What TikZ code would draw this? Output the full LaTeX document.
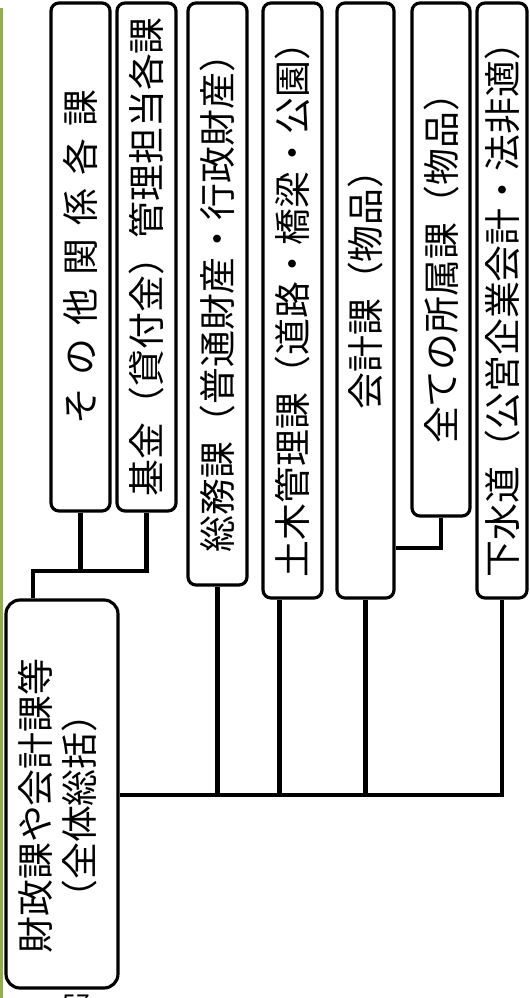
\documentclass[tikz,border=0pt]{standalone}
\usepackage{fontspec}
\usepackage{graphicx}
\setmainfont{Noto Sans CJK JP}
\definecolor{framegreen}{RGB}{146,175,80}
\tikzset{
  unitbox/.style={draw, line width=1.8pt, rounded corners=0.16cm, inner sep=0pt,
    font=\fontsize{21pt}{25pt}\selectfont},
  conn/.style={line width=2.3pt},
}
\newcommand\spread[1]{{\addfontfeature{LetterSpace=35}#1}}

\begin{document}
\begin{tikzpicture}[x=0.02cm,y=-0.02cm]
  \useasboundingbox (0,0) rectangle (529,998);
  % Frame edge
  \draw[framegreen, line width=1.7pt] (1.5,8) -- (1.5,998);
  % Department boxes
  \foreach \nm/\xa/\xb/\yb/\txt in {
      b1/51/110/511/\spread{その他関係各課},
      b2/117/176/511/基金（貸付金）管理担当各課,
      b3/188/247/585/総務課（普通財産・行政財産）,
      b4/263/322/598/土木管理課（道路・橋梁・公園）,
      b5/337/394/598/\hspace*{0.8cm}会計課（物品）,
      b6/412/470/516/全ての所属課（物品）,
      b7/477/527/598/下水道（公営企業会計・法非適）} {
    \node[unitbox, minimum width={(\xb-\xa)*0.02cm}, minimum height={(\yb-3)*0.02cm}]
      (\nm) at ({(\xa+\xb)/2},{(\yb+3)/2}) {\rotatebox{90}{\txt}};
  }
  % Head box
  \node[unitbox, rounded corners=0.28cm, minimum width=112*0.02cm, minimum height=388*0.02cm]
    (main) at (62,794) {\rotatebox{90}{\fontsize{21pt}{23pt}\selectfont
      \begin{tabular}{@{}c@{}}財政課や会計課等\\（全体総括）\end{tabular}\hspace{0.48cm}}};
  % Page number (cut off)
  \node[font=\fontsize{14pt}{16pt}\selectfont, anchor=base, inner sep=0pt] (pg) at (76,1012) {57};
  % Upper links
  \coordinate (tbus) at (33,571);
  \draw[conn] (main.north -| tbus) -- (tbus) -| (b2.south);
  \draw[conn] (b1.south) -- (b1.south |- tbus);
  % Lower links
  \coordinate (bbus) at (0,795);
  \draw[conn] (main.east |- bbus) -| (b7.south);
  \draw[conn] (b3.south) -- (b3.south |- bbus);
  \draw[conn] ([xshift=-0.26cm]b4.south) -- ([xshift=-0.26cm]b4.south |- bbus);
  \draw[conn] (b5.south) -- (b5.south |- bbus);
  % Side link
  \coordinate (sbus) at (0,548);
  \draw[conn] (b6.south) |- (b5.east |- sbus);
\end{tikzpicture}
\end{document}
